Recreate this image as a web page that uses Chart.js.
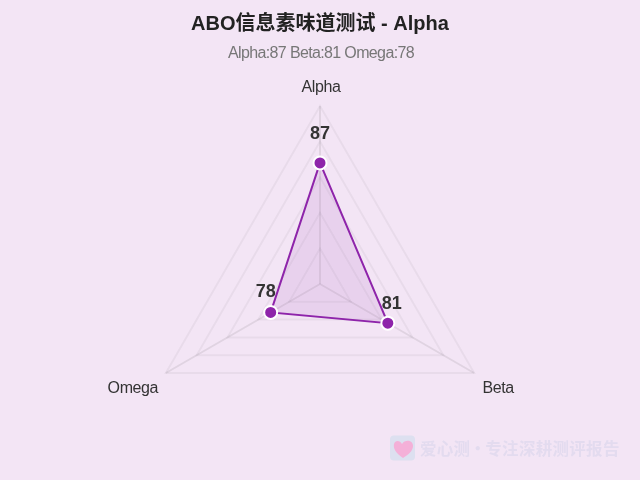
<!DOCTYPE html>
<html>
<head>
<meta charset="utf-8">
<title>ABO信息素味道测试 - Alpha</title>
<script src="https://cdn.jsdelivr.net/npm/chart.js@4/dist/chart.umd.min.js"></script>
<style>
    html, body { margin: 0; padding: 0; background: #f3e5f5; }
    #wrap { position: relative; width: 640px; height: 480px; overflow: hidden; }
    #watermark {
        position: absolute; left: 390px; top: 434px; height: 27px; display: flex; align-items: center;
        color: rgba(63, 111, 181, 0.085); white-space: nowrap;
        font: bold 16.5px "Noto Sans CJK SC", serif;
    }
    #watermark svg { margin-right: 5px; }
    #watermark span { letter-spacing: 0.3px; word-spacing: -5px; }
</style>
</head>
<body>
<div id="wrap">
    <canvas id="radarChart" width="640" height="480"></canvas>
    <div id="watermark">
        <svg width="25" height="26" viewBox="0 0 25 26">
            <rect x="0" y="0.5" width="25" height="25" rx="4" fill="#dde0f0"/>
            <path d="M13 23 C6 18 3 14 4 9 C5 5 10 5 12 9 C15 4 23 5 23 11 C23 16 18 20 13 23 Z" fill="#f4b0d8"/>
        </svg>
        <span>爱心测 · 专注深耕测评报告</span>
    </div>
</div>
<script>
const categories = ['Alpha', 'Beta', 'Omega'];
const scores = [87, 81, 78];
const scaleMin = 70;
const scaleMax = 95;
const scaleStep = 5;

const chartFont = '"Liberation Sans", Arial, "Noto Sans CJK SC", sans-serif';
const summary = categories.map((c, i) => c + ':' + scores[i]).join(' ');

// Value labels, axis names and the summary line are drawn here, the reference
// has them tighter and in other spots than the built-in ones
const radarLabels = {
    id: 'radarLabels',
    afterDatasetsDraw(chart) {
        const ctx = chart.ctx;
        const scale = chart.scales.r;
        const points = chart.getDatasetMeta(0).data;
        const valueShift = [[0, -29], [4, -19], [-5, -20]];
        const nameShift = [[1, -18], [24, 16], [-33, 16]];

        ctx.save();
        ctx.textAlign = 'center';
        ctx.textBaseline = 'middle';

        ctx.font = 'bold 18px ' + chartFont;
        ctx.fillStyle = '#333333';
        points.forEach((pt, i) => {
            ctx.fillText(scores[i], pt.x + valueShift[i][0], pt.y + valueShift[i][1]);
        });

        ctx.letterSpacing = '-0.4px';
        ctx.font = '16px ' + chartFont;
        categories.forEach((name, i) => {
            const corner = scale.getPointPosition(i, scale.drawingArea);
            ctx.fillText(name, corner.x + nameShift[i][0], corner.y + nameShift[i][1]);
        });

        ctx.letterSpacing = '-0.64px';
        ctx.fillStyle = '#777777';
        ctx.fillText(summary, 321, 54);
        ctx.restore();
    }
};

Chart.defaults.font.family = chartFont;

new Chart(document.getElementById('radarChart'), {
    type: 'radar',
    data: {
        labels: categories,
        datasets: [{
            data: scores,
            borderColor: '#8e24aa',
            borderWidth: 2,
            backgroundColor: 'rgba(142, 36, 170, 0.1)',
            fill: true,
            pointRadius: 6.5,
            pointBorderWidth: 2,
            pointBackgroundColor: '#8e24aa',
            pointBorderColor: '#ffffff'
        }]
    },
    options: {
        responsive: false,
        animation: false,
        layout: { padding: { top: 12, bottom: 18 } },
        scales: {
            r: {
                min: scaleMin,
                max: scaleMax,
                ticks: { display: false, stepSize: scaleStep },
                pointLabels: { display: false },
                grid: { color: 'rgba(0, 0, 0, 0.045)', lineWidth: 2 },
                angleLines: { color: 'rgba(0, 0, 0, 0.08)', lineWidth: 2 }
            }
        },
        plugins: {
            legend: { display: false },
            tooltip: { enabled: false },
            title: {
                display: true,
                text: 'ABO信息素味道测试 - Alpha',
                color: '#222222',
                font: { size: 20, weight: 'bold' },
                padding: { top: 0, bottom: 70 }
            }
        }
    },
    plugins: [radarLabels]
});
</script>
</body>
</html>
